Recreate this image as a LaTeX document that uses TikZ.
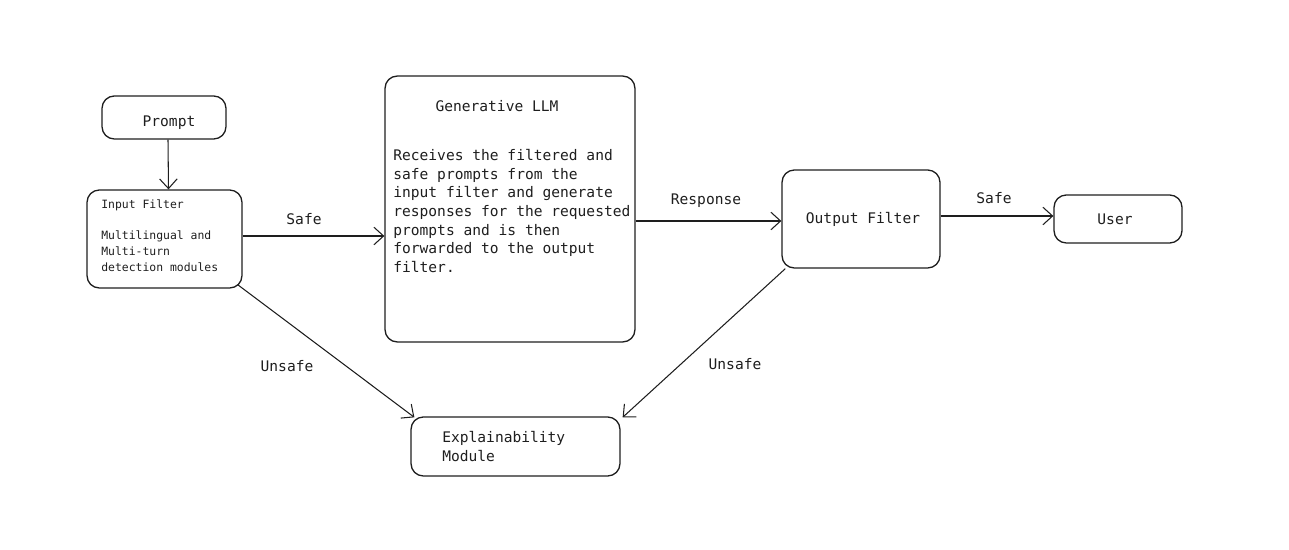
\documentclass[tikz,border=0pt]{standalone}
\usepackage{fontspec}
\setmonofont{DejaVu Sans Mono}
\usetikzlibrary{arrows.meta}
\definecolor{ink}{HTML}{1E1E1E}

\tikzset{
	box/.style={draw=ink, line width=0.75pt, rounded corners=7pt, inner sep=0pt},
	txt/.style={font=\ttfamily\fontsize{8.3}{10.6}\selectfont, text=ink, inner sep=0pt},
	small/.style={font=\ttfamily\fontsize{6.5}{9.1}\selectfont, text=ink, inner sep=0pt},
	flow/.style={draw=ink, line width=0.6pt, -{Straight Barb[length=5.5pt,width=10pt]}},
}

\begin{document}
\begin{tikzpicture}[x=0.02cm, y=-0.02cm]
	\useasboundingbox (0,0) rectangle (1289,550);

	% boxes
	\node[box, minimum width=2.48cm, minimum height=0.86cm] (prompt) at (164,117.5) {};
	\node[box, minimum width=3.1cm, minimum height=1.96cm] (input) at (164.5,239) {};
	\node[box, minimum width=5cm, minimum height=5.32cm] (llm) at (510,209) {};
	\node[box, minimum width=3.16cm, minimum height=1.96cm] (output) at (861,219) {};
	\node[box, minimum width=2.56cm, minimum height=0.96cm] (user) at (1118,219) {};
	\node[box, minimum width=4.18cm, minimum height=1.18cm] (explain) at (515.5,446.5) {};

	% texts
	\node[txt] (prompttext) at (169,123) {Prompt};
	\node[small, anchor=west] (inputtitle) at (101,205) {Input Filter};
	\node[small, anchor=north west, align=left] (inputtext) at (101,230) {Multilingual and\\Multi-turn\\detection modules};
	\node[txt] (llmtitle) at (497,106) {Generative LLM};
	\node[txt, anchor=north west, align=left] (llmtext) at (393,149) {Receives the filtered and\\safe prompts from the\\input filter and generate\\responses for the requested\\prompts and is then\\forwarded to the output\\filter.};
	\node[txt] (outputtext) at (863,219) {Output Filter};
	\node[txt] (usertext) at (1115,219) {User};
	\node[txt, anchor=north west, align=left] (explaintext) at (442,431) {Explainability\\Module};

	% connectors
	\draw[flow] ([shift={(4,0)}]prompt.south) -- ([shift={(4,0)}]input.north);
	\draw[flow] ([shift={(0,-3)}]input.east) -- ([shift={(0,-3)}]input.east -| llm.west);
	\draw[flow] ([shift={(0,2)}]output.west -| llm.east) -- ([shift={(0,2)}]output.west);
	\draw[flow] ([shift={(0,-3)}]output.east) -- ([shift={(0,-3)}]user.west);
	\draw[flow] ([shift={(-5,-4)}]input.south east) -- ([shift={(4,1)}]explain.north west);
	\draw[flow] ([shift={(4,0)}]output.south west) -- ([shift={(2,1)}]explain.north east);

	% labels
	\node[txt] (safein) at (304,219) {Safe};
	\node[txt] (response) at (706,201) {Response};
	\node[txt] (safeout) at (994,198) {Safe};
	\node[txt] (unsafein) at (287,366) {Unsafe};
	\node[txt] (unsafeout) at (735,364) {Unsafe};
\end{tikzpicture}
\end{document}
